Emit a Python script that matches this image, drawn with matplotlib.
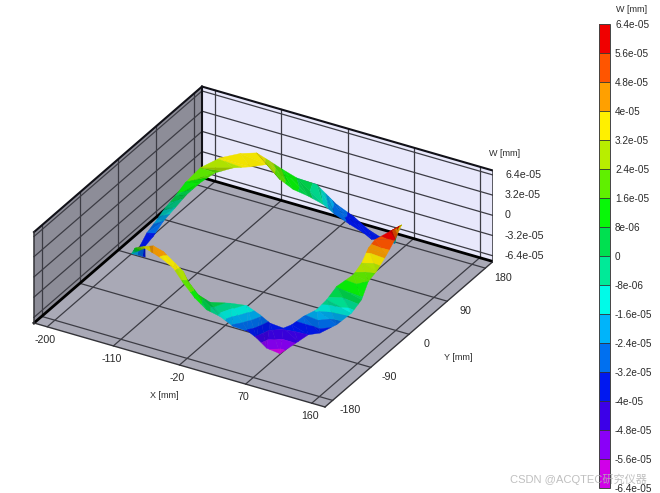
import numpy as np
import matplotlib
matplotlib.use("Agg")
import matplotlib.pyplot as plt
from matplotlib.colors import ListedColormap, BoundaryNorm
from mpl_toolkits.mplot3d.art3d import Poly3DCollection
from mpl_toolkits.mplot3d import proj3d

# ---------- data ----------
x_ticks = [-200, -110, -20, 70, 160]
y_ticks = [-180, -90, 0, 90, 180]
w_ticks = [-6.4e-5, -3.2e-5, 0, 3.2e-5, 6.4e-5]
w_tick_labels = ["-6.4e-05", "-3.2e-05", "0", "3.2e-05", "6.4e-05"]
x_lim = (-218, 178)
y_lim = (-198, 198)
w_lim = (-7.3e-5, 7.1e-5)

levels = [-6.4, -5.6, -4.8, -4.0, -3.2, -2.4, -1.6, -0.8, 0, 0.8, 1.6, 2.4, 3.2, 4.0, 4.8, 5.6, 6.4]
level_labels = ["-6.4e-05", "-5.6e-05", "-4.8e-05", "-4e-05", "-3.2e-05", "-2.4e-05", "-1.6e-05", "-8e-06",
                "0", "8e-06", "1.6e-05", "2.4e-05", "3.2e-05", "4e-05", "4.8e-05", "5.6e-05", "6.4e-05"]
level_colors = ["#d000e8", "#8a00f8", "#3c00e8", "#0018f0", "#0070f0", "#00b4fa", "#00fbe8", "#00ea98",
                "#00e050", "#08f808", "#60f000", "#b8ee00", "#fff000", "#ffa000", "#ff5500", "#f00000"]

# Strip edges, going round the ring: X, Y [mm] and W [1e-5 mm]
xa = [118.3, 148.9, 148.5, 144.5, 140.4, 147.7, 139.9, 124.9, 113.3, 100.4, 93.6, 79.0,
      62.4, 50.1, 39.7, 24.5, 11.1, 0.0, -19.7, -41.8, -60.8, -77.8, -92.2, -114.8,
      -156.7, -154.9, -173.4, -178.5, -175.1, -169.2, -164.6, -163.4, -159.1, -143.9, -125.6, -107.9,
      -94.1, -80.7, -60.7, -39.9, -27.7, -15.3, 11.0, 40.5, 63.3, 89.6]
ya = [86.1, 17.3, -1.5, -18.3, -30.7, -59.2, -69.2, -78.6, -97.7, -102.9, -114.7, -132.6,
      -135.4, -137.6, -139.3, -148.2, -156.3, -168.7, -162.0, -151.1, -141.9, -135.9, -134.6, -115.1,
      -73.8, -45.6, -25.4, -0.7, 17.0, 26.4, 41.9, 63.5, 91.4, 112.0, 127.5, 136.1,
      139.7, 147.9, 148.7, 159.8, 166.1, 164.3, 158.0, 142.2, 130.2, 112.1]
wa = [3.0, 5.7, 4.4, 2.6, 1.6, 0.6, -1.2, -3.0, -3.6, -4.0, -4.6, -6.0,
      -5.5, -4.2, -3.4, -2.6, -1.0, 0.4, 1.2, 2.2, 3.4, 3.8, 4.3, 3.2,
      -1.5, -3.6, -3.6, -3.2, -2.0, -0.5, 0.6, 1.5, 2.4, 3.3, 3.7, 3.9,
      3.0, 1.6, 0.8, -0.2, -2.0, -2.8, -3.4, -3.6, -3.3, -1.0]
xb = [141.8, 136.3, 125.5, 121.9, 123.8, 121.7, 108.8, 106.1, 98.7, 84.1, 74.6, 67.8,
      52.0, 40.9, 26.0, 11.5, -4.1, -20.2, -38.7, -49.6, -63.5, -84.7, -98.6, -119.9,
      -139.9, -163.5, -169.0, -169.3, -169.4, -162.0, -156.2, -150.4, -140.9, -120.7, -101.9, -88.4,
      -66.8, -48.9, -30.2, -14.0, -3.7, 17.4, 37.9, 53.5, 65.7, 96.2]
yb = [37.3, 27.4, 10.6, 1.3, -17.8, -33.7, -50.6, -69.6, -80.4, -86.4, -97.4, -105.3,
      -109.4, -113.8, -119.4, -133.5, -153.6, -153.2, -144.8, -137.6, -133.2, -124.0, -123.5, -110.1,
      -95.1, -32.9, -21.2, -1.0, 22.7, 37.5, 54.8, 76.2, 95.2, 103.3, 110.0, 125.9,
      119.9, 120.3, 123.3, 130.6, 140.3, 139.0, 135.0, 127.6, 126.1, 108.6]
wb = [6.3, 6.0, 5.3, 4.4, 3.2, 2.2, 0.9, -0.2, -1.4, -2.6, -3.6, -3.9,
      -3.4, -2.2, -0.9, -0.2, 0.6, 1.2, 2.2, 3.0, 3.6, 4.2, 4.6, 3.0,
      1.2, -3.2, -3.8, -3.4, -2.4, -0.9, 0.4, 1.2, 2.0, 3.0, 3.4, 3.3,
      2.0, 1.0, 0.4, -0.8, -2.6, -3.4, -3.8, -3.9, -3.4, -2.0]

# ---------- figure and 3D frame ----------
W_PX, H_PX = 660, 493
plt.rcParams["font.family"] = ["Liberation Sans", "Noto Sans CJK SC", "DejaVu Sans"]
fig = plt.figure(figsize=(W_PX / 100, H_PX / 100), dpi=100, facecolor="white")
ax = fig.add_axes([0.1, 0.1, 0.6, 0.8], projection="3d", proj_type="ortho", computed_zorder=False)
ax.view_init(elev=30, azim=-60)
ax.set_box_aspect((1, 1, 0.3125))
ax.set_xlim(*x_lim, view_margin=0)
ax.set_ylim(*y_lim, view_margin=0)
ax.set_zlim(*w_lim, view_margin=0)
ax.set_axis_off()


def disp(x, y, z):
    a, b, _ = proj3d.proj_transform(x, y, z, ax.get_proj())
    return ax.transData.transform((a, b))


# Fit the box to the frame position of the reference (pixels, y down)
side, cx, cy = 300.0, 260.0, 250.0
for _ in range(4):
    ax.set_position([(cx - side / 2) / W_PX, (cy - side / 2) / H_PX, side / W_PX, side / H_PX])
    ax.apply_aspect()
    p0 = disp(x_lim[0], y_lim[0], w_lim[0])
    p1 = disp(x_lim[1], y_lim[0], w_lim[0])
    side *= np.hypot(291, 84) / np.hypot(*(p1 - p0))
    ax.set_position([(cx - side / 2) / W_PX, (cy - side / 2) / H_PX, side / W_PX, side / H_PX])
    ax.apply_aspect()
    p0 = disp(x_lim[0], y_lim[0], w_lim[0])
    cx += 34 - p0[0]
    cy += (H_PX - 323) - p0[1]
ax.set_position([(cx - side / 2) / W_PX, (cy - side / 2) / H_PX, side / W_PX, side / H_PX])
ax.apply_aspect()

x0, x1 = x_lim
y0, y1 = y_lim
z0, z1 = w_lim
floor = [[(x0, y0, z0), (x1, y0, z0), (x1, y1, z0), (x0, y1, z0)]]
back = [[(x0, y1, z0), (x1, y1, z0), (x1, y1, z1), (x0, y1, z1)]]
left = [[(x0, y0, z0), (x0, y1, z0), (x0, y1, z1), (x0, y0, z1)]]
ax.add_collection3d(Poly3DCollection(floor, facecolor="#a9a9b6", edgecolor="none", zorder=1), autolim=False)
ax.add_collection3d(Poly3DCollection(back, facecolor="#e8e8fb", edgecolor="none", zorder=1), autolim=False)
ax.add_collection3d(Poly3DCollection(left, facecolor="#8d8d98", edgecolor="none", zorder=1), autolim=False)

grid = dict(color="#3c3c44", lw=0.9, zorder=2)
for x in x_ticks:
    ax.plot([x, x], [y0, y1], [z0, z0], **grid)
    ax.plot([x, x], [y1, y1], [z0, z1], **grid)
for y in y_ticks:
    ax.plot([x0, x1], [y, y], [z0, z0], **grid)
    ax.plot([x0, x0], [y, y], [z0, z1], **grid)
for w in w_ticks:
    ax.plot([x0, x1], [y1, y1], [w, w], **grid)
    ax.plot([x0, x0], [y0, y1], [w, w], **grid)

edge = dict(color="#111118", lw=1.5, zorder=3)
ax.plot([x0, x1], [y1, y1], [z0, z0], color="#000000", lw=2.0, zorder=3)
ax.plot([x0, x0], [y0, y1], [z0, z0], color="#000000", lw=2.0, zorder=3)
ax.plot([x0, x1], [y1, y1], [z1, z1], **edge)
ax.plot([x0, x0], [y0, y1], [z1, z1], **edge)
ax.plot([x0, x0], [y1, y1], [z0, z1], **edge)
ax.plot([x0, x0], [y0, y0], [z0, z1], color="#333338", lw=1.1, zorder=3)
ax.plot([x1, x1], [y1, y1], [z0, z1], color="#333338", lw=1.1, zorder=3)
ax.plot([x0, x1], [y0, y0], [z0, z0], color="#333338", lw=1.0, zorder=3)
ax.plot([x1, x1], [y0, y1], [z0, z0], color="#333338", lw=1.0, zorder=3)

# ---------- ring surface: triangles cut along the colour levels ----------
cmap = ListedColormap(level_colors)
norm = BoundaryNorm(levels, cmap.N, clip=True)


def clip_band(tri, lo, hi):
    """Keep the part of a polygon whose W (third coordinate) lies in [lo, hi]."""
    poly = list(tri)
    for sign, limit in ((1, lo), (-1, hi)):
        out = []
        for k, p in enumerate(poly):
            q = poly[(k + 1) % len(poly)]
            dp, dq = sign * (p[2] - limit), sign * (q[2] - limit)
            if dp >= 0:
                out.append(p)
            if dp * dq < 0:
                out.append(p + (q - p) * dp / (dp - dq))
        poly = out
        if not poly:
            break
    return poly


A = np.array([xa, ya, wa], float).T
B = np.array([xb, yb, wb], float).T
n = len(A)
light = np.array([0.1, -0.3, 0.95])
light /= np.linalg.norm(light)
W_TO_MM = 8.6  # height of one W unit in the box, in mm of the floor scale
polys, colors = [], []
edges = [-100] + levels[1:-1] + [100]
for i in range(n):
    j = (i + 1) % n
    for tri in ([A[i], A[j], B[j]], [A[i], B[j], B[i]]):
        tri = np.array(tri)
        scaled = tri * [1, 1, W_TO_MM]
        nrm = np.cross(scaled[1] - scaled[0], scaled[2] - scaled[0])
        length = np.linalg.norm(nrm)
        lit = abs(nrm @ light) / length if length > 0 else 1.0
        shade = 0.60 + 0.35 * lit
        for b in range(cmap.N):
            part = clip_band(tri, edges[b], edges[b + 1])
            if len(part) >= 3:
                part = np.array(part) * [1, 1, 1e-5]
                polys.append(part)
                rgb = np.array(matplotlib.colors.to_rgb(level_colors[b])) * shade
                colors.append(tuple(rgb))
ring = Poly3DCollection(polys, facecolors=colors, edgecolors=colors, linewidths=0.25, zorder=5, zsort="average")
ax.add_collection3d(ring, autolim=False)


# ---------- labels ----------
def label(x, y, z, dx, dy, text, ha="center"):
    p = disp(x, y, z)
    fig.text((p[0] + dx) / W_PX, (p[1] - dy) / H_PX, text, ha=ha, va="center", fontsize=7.7, color="#2a2a2a")


for x in x_ticks:
    label(x, y0, z0, -2, 13, f"{x}")
for y in y_ticks:
    label(x1, y, z0, 18, 10, f"{y}")
for w, t in zip(w_ticks, w_tick_labels):
    label(x1, y1, w, 12, 0, t, ha="left")
fig.text(505 / W_PX, 1 - 153 / H_PX, "W [mm]", ha="center", va="center", fontsize=6.5, color="#2a2a2a")
fig.text(164 / W_PX, 1 - 396 / H_PX, "X [mm]", ha="center", va="center", fontsize=6.5, color="#2a2a2a")
fig.text(458 / W_PX, 1 - 357 / H_PX, "Y [mm]", ha="center", va="center", fontsize=6.5, color="#2a2a2a")

# ---------- colour bar ----------
cax = fig.add_axes([599 / W_PX, 1 - 488 / H_PX, 11 / W_PX, 464 / H_PX])
sm = plt.cm.ScalarMappable(norm=norm, cmap=cmap)
cb = fig.colorbar(sm, cax=cax, ticks=levels, drawedges=True, spacing="proportional")
cb.set_ticklabels(level_labels)
cb.ax.tick_params(length=0, pad=3.6, labelsize=7.2, labelcolor="#2a2a2a")
cb.outline.set_edgecolor("#444444")
cb.outline.set_linewidth(0.7)
cb.dividers.set_color("#333333")
cb.dividers.set_linewidth(0.6)
fig.text(632 / W_PX, 1 - 9 / H_PX, "W [mm]", ha="center", va="center", fontsize=6.5, color="#2a2a2a")

fig.text(510 / W_PX, 1 - 479 / H_PX, "CSDN @ACQTEC研究仪器", ha="left", va="center", fontsize=8.0, color="#b4b4b4", alpha=0.85)

fig.savefig("out.png", dpi=100)
